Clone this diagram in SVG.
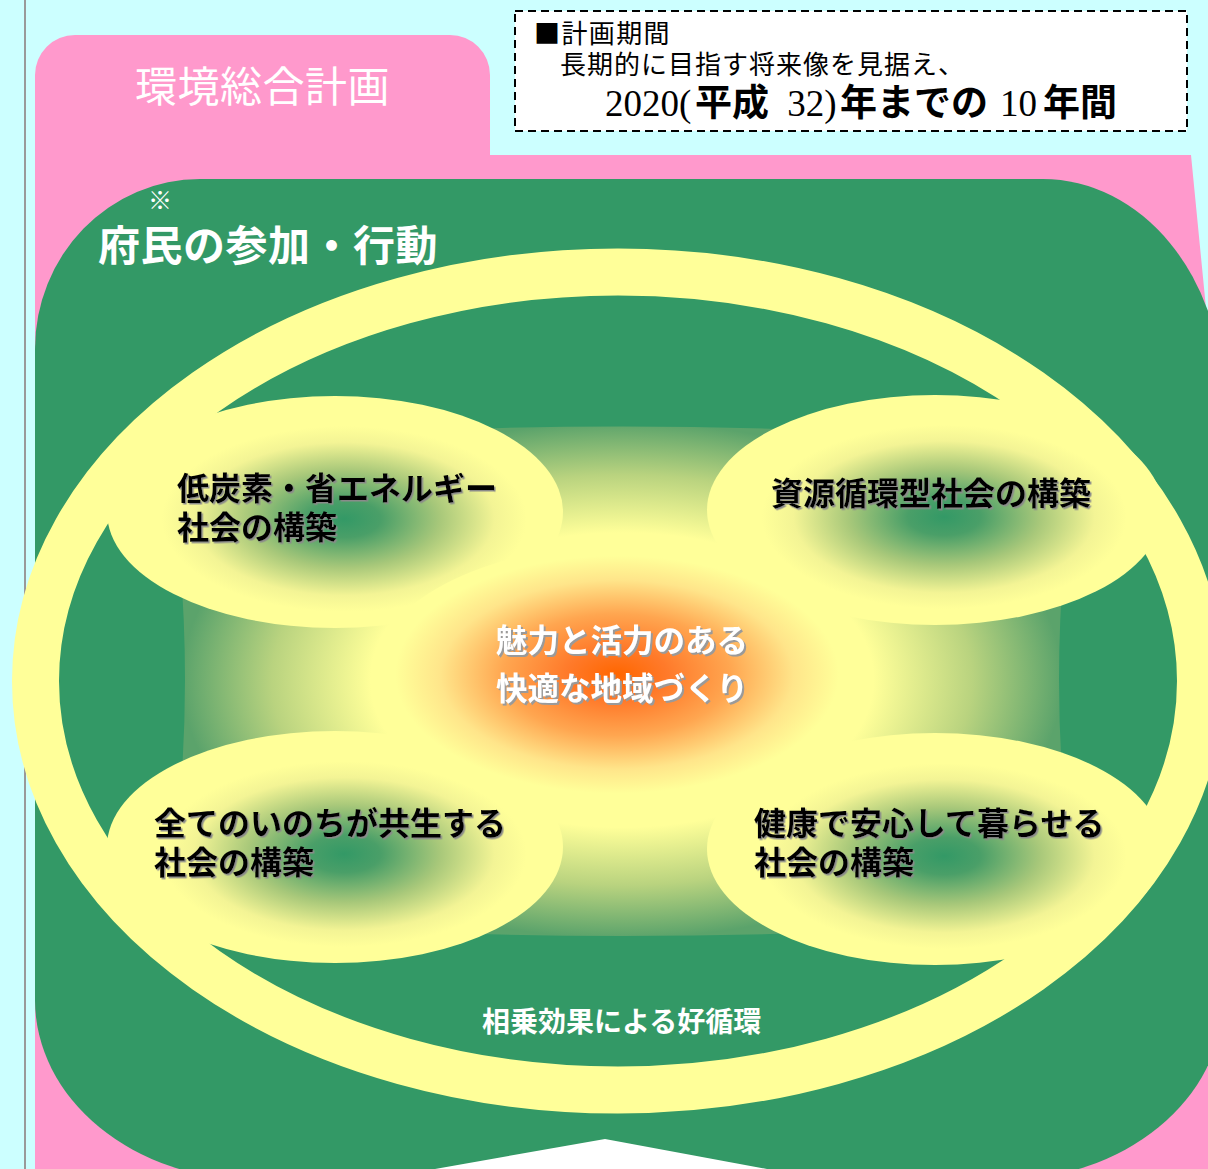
<svg xmlns="http://www.w3.org/2000/svg" width="1208" height="1169" viewBox="0 0 1208 1169">
  <style>
    .jp { font-family: "Noto Sans CJK JP", "Noto Sans", sans-serif; }
    .serif { font-family: "Liberation Serif", "DejaVu Serif", serif; }
    .node-t { font-family: "Noto Sans CJK JP", sans-serif; font-size: 32px; font-weight: bold; fill: #000; filter: url(#shadowDark); }
    .white-b { font-family: "Noto Sans CJK JP", sans-serif; font-weight: bold; fill: #fff; }
  </style>
  <defs>
    <radialGradient id="gPillow" gradientUnits="userSpaceOnUse" cx="0" cy="0" r="1" gradientTransform="translate(622,680) scale(449,263)">
      <stop offset="0" stop-color="#FFFF99"/>
      <stop offset="0.56" stop-color="#FFFF99"/>
      <stop offset="0.78" stop-color="#B9D37F"/>
      <stop offset="0.98" stop-color="#5BA36B"/>
      <stop offset="1" stop-color="#5BA36B"/>
    </radialGradient>
    <radialGradient id="gSub" cx="0.52" cy="0.53" r="0.5">
      <stop offset="0" stop-color="#339966"/>
      <stop offset="0.16" stop-color="#4A9F68"/>
      <stop offset="0.42" stop-color="#A8C87A"/>
      <stop offset="0.66" stop-color="#F3F495"/>
      <stop offset="0.8" stop-color="#FFFF99"/>
      <stop offset="1" stop-color="#FFFF99"/>
    </radialGradient>
    <radialGradient id="gCenter" cx="0.49" cy="0.48" r="0.5">
      <stop offset="0" stop-color="#FF6600"/>
      <stop offset="0.2" stop-color="#FF7A2A"/>
      <stop offset="0.45" stop-color="#FFA650"/>
      <stop offset="0.7" stop-color="#FFE58A"/>
      <stop offset="0.88" stop-color="#FFFF99"/>
      <stop offset="1" stop-color="#FFFF99"/>
    </radialGradient>
    <filter id="shadowDark" x="-5%" y="-20%" width="110%" height="140%">
      <feDropShadow dx="1.5" dy="1.5" stdDeviation="0.4" flood-color="#8a8a8a" flood-opacity="1"/>
    </filter>
    <filter id="shadowLight" x="-5%" y="-20%" width="110%" height="140%">
      <feDropShadow dx="2" dy="2" stdDeviation="0.5" flood-color="#9a9a9a" flood-opacity="1"/>
    </filter>
  </defs>

  <!-- background -->
  <rect x="0" y="0" width="1208" height="1169" fill="#CCFFFF"/>
  <rect x="24" y="0" width="2" height="1169" fill="#999999"/>

  <!-- pink frame -->
  <g id="frame">
    <path d="M35,75 A40,40 0 0 1 75,35 L450,35 A40,40 0 0 1 490,75 L490,155 L1191,155 L1215,400 L1215,1169 L35,1169 Z" fill="#FF99CC"/>
    <text class="jp" x="135" y="101.5" font-size="42" fill="#fff" letter-spacing="0.5">環境総合計画</text>
  </g>

  <!-- plan period box -->
  <g id="period">
    <rect x="515" y="11" width="672" height="120" fill="#fff" stroke="#000" stroke-width="2" stroke-dasharray="8 5"/>
    <text class="jp" x="534" y="42.5" font-size="26" fill="#000" letter-spacing="1.4">■計画期間</text>
    <text class="jp" x="560" y="74" font-size="26" fill="#000" letter-spacing="1">長期的に目指す将来像を見据え、</text>
    <text x="605" y="116" font-size="37" fill="#000"><tspan class="serif">2020(</tspan><tspan class="jp" x="695" font-weight="bold">平成</tspan><tspan class="serif" x="778"> 32)</tspan><tspan class="jp" x="840" font-weight="bold">年までの</tspan><tspan class="serif" x="1000">10</tspan><tspan class="jp" x="1043" font-weight="bold">年間</tspan></text>
  </g>

  <!-- green area -->
  <g id="participation">
    <path d="M35,349 A165,170 0 0 1 200,179 L1043,179 A180,220 0 0 1 1223,399 L1223,1000 A220,180 0 0 1 1003,1180 L255,1180 A220,180 0 0 1 35,1000 Z" fill="#339966"/>
    <polygon points="435,1169 605,1139 767,1169" fill="#fff"/>
    <text class="jp" x="160" y="209" font-size="24" fill="#fff" text-anchor="middle">※</text>
    <text class="white-b" x="98" y="261" font-size="42" letter-spacing="0.5">府民の参加・行動</text>
  </g>

  <!-- synergy ring -->
  <g id="cycle">
    <ellipse cx="618" cy="681" rx="582.5" ry="409" fill="none" stroke="#FFFF99" stroke-width="47"/>
    <text class="white-b" x="482" y="1032" font-size="28">相乗効果による好循環</text>
  </g>

  <!-- connecting area -->
  <g id="connectors">
    <path d="M200,445 Q622,408 1044,445 L1064,560 Q1054,680 1064,800 L1044,920 Q622,952 200,920 L180,800 Q190,680 180,560 Z" fill="url(#gPillow)"/>
  </g>

  <g id="low-carbon">
    <ellipse cx="335" cy="512" rx="228" ry="116" fill="url(#gSub)"/>
    <text class="node-t" x="177" y="500">低炭素・省エネルギー</text>
    <text class="node-t" x="177" y="539">社会の構築</text>
  </g>

  <g id="recycling">
    <ellipse cx="935" cy="510" rx="228" ry="115" fill="url(#gSub)"/>
    <text class="node-t" x="771" y="505">資源循環型社会の構築</text>
  </g>

  <g id="coexistence">
    <ellipse cx="335" cy="847" rx="228" ry="116" fill="url(#gSub)"/>
    <text class="node-t" x="154" y="835">全てのいのちが共生する</text>
    <text class="node-t" x="154" y="874">社会の構築</text>
  </g>

  <g id="health">
    <ellipse cx="935" cy="849" rx="228" ry="116" fill="url(#gSub)"/>
    <text class="node-t" x="754" y="835">健康で安心して暮らせる</text>
    <text class="node-t" x="754" y="874">社会の構築</text>
  </g>

  <g id="center">
    <ellipse cx="622" cy="680" rx="252" ry="135" fill="url(#gCenter)"/>
    <text class="white-b" x="496" y="652" font-size="31.5" filter="url(#shadowLight)">魅力と活力のある</text>
    <text class="white-b" x="496" y="700" font-size="31.5" filter="url(#shadowLight)">快適な地域づくり</text>
  </g>
</svg>
